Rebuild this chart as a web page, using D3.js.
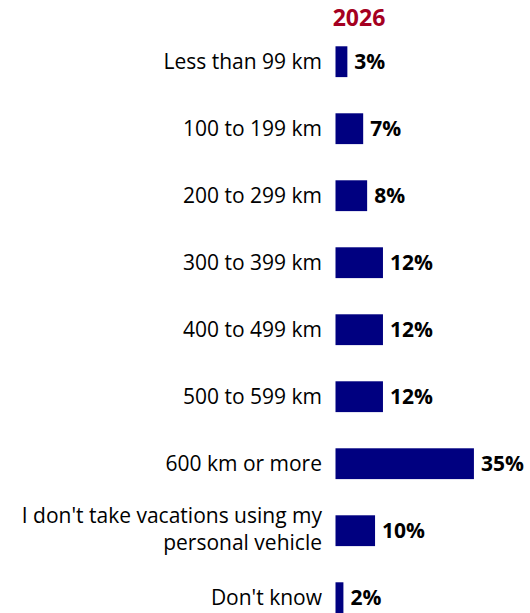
<!DOCTYPE html>
<html>
<head>
<meta charset="utf-8">
<script src="https://cdn.jsdelivr.net/npm/d3@7"></script>
<style>
  html, body { margin: 0; padding: 0; background: #fff; }
  svg { display: block; font-family: "Open Sans", sans-serif; }
</style>
</head>
<body>
<div id="chart"></div>
<script>
// Dados
const categories = [
    ['Less than 99 km'],
    ['100 to 199 km'],
    ['200 to 299 km'],
    ['300 to 399 km'],
    ['400 to 499 km'],
    ['500 to 599 km'],
    ['600 km or more'],
    ["I don't take vacations using my", 'personal vehicle'],
    ["Don't know"]
];
const values2026 = [3, 7, 8, 12, 12, 12, 35, 10, 2];
const seriesTitle = '2026';

const width = 530, height = 613;

const svg = d3.select('#chart').append('svg')
    .attr('width', width)
    .attr('height', height);

// Escalas
const y = d3.scaleBand()
    .domain(d3.range(categories.length))
    .range([28.2, 631.2])
    .paddingInner(0.54)
    .paddingOuter(0.27);

const x = d3.scaleLinear()
    .domain([0, 100])
    .range([335.5, 335.5 + 395.5]);

// Título da série
svg.append('text')
    .attr('x', 359)
    .attr('y', 26)
    .attr('text-anchor', 'middle')
    .style('font-size', '23px')
    .style('font-weight', 'bold')
    .style('fill', '#A50021')
    .text(seriesTitle);

// Rótulos das categorias
const labels = svg.selectAll('.cat')
    .data(categories)
    .enter()
    .append('text')
    .attr('class', 'cat')
    .attr('text-anchor', 'end')
    .style('font-size', '21px')
    .style('fill', '#000');

labels.each(function(lines, i) {
    const cy = y(i) + y.bandwidth() / 2;
    const lh = 27;
    const t = d3.select(this);
    lines.forEach((line, j) => {
        t.append('tspan')
            .attr('x', 322)
            .attr('y', cy + (j - (lines.length - 1) / 2) * lh - (lines.length - 1) * 2)
            .attr('dy', '0.36em')
            .text(line);
    });
});

// Barras
svg.selectAll('.bar')
    .data(values2026)
    .enter()
    .append('rect')
    .attr('class', 'bar')
    .attr('x', x(0))
    .attr('y', (d, i) => y(i))
    .attr('width', d => x(d) - x(0))
    .attr('height', y.bandwidth())
    .attr('fill', '#000080');

// Valores
svg.selectAll('.val')
    .data(values2026)
    .enter()
    .append('text')
    .attr('class', 'val')
    .attr('x', d => x(d) + 7)
    .attr('y', (d, i) => y(i) + y.bandwidth() / 2)
    .attr('dy', '0.36em')
    .style('font-size', '21px')
    .style('font-weight', 'bold')
    .style('fill', '#000')
    .text(d => d + '%');
</script>
</body>
</html>
